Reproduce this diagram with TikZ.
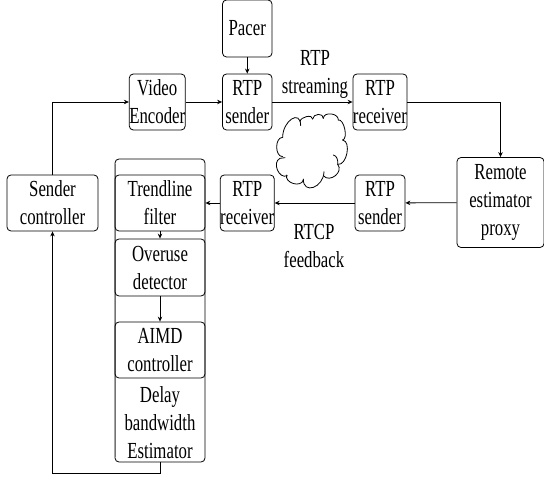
\documentclass[tikz,border=0pt]{standalone}
\usepackage{fontspec}
\setmainfont[FakeStretch=0.73]{Liberation Serif}
\usetikzlibrary{arrows.meta}
\tikzset{
  blockbox/.style={draw=black,line width=0.8pt,rounded corners=4pt,inner sep=0pt,align=center,font=\fontsize{23}{28}\selectfont},
  plainlabel/.style={inner sep=0pt,align=center,font=\fontsize{23}{28}\selectfont},
  link/.style={draw=black,line width=0.8pt,-{Stealth[length=5pt,width=4.5pt]}},
}
\begin{document}
\begin{tikzpicture}[x=1pt,y=-1pt]
\useasboundingbox (0,0) rectangle (544,478);
\node[blockbox,minimum width=90pt,minimum height=303pt] (outer) at (160,310.5) {};
\draw[black!55,line width=1pt] (115,164) -- (115,457);
\node[blockbox,minimum width=49.5pt,minimum height=57pt] (pacer) at (247.25,28.5) {Pacer};
\node[blockbox,minimum width=49.5pt,minimum height=56pt] (sender1) at (247.25,102) {RTP\\sender};
\node[blockbox,minimum width=55.5pt,minimum height=56pt] (video) at (157.25,102) {Video\\Encoder};
\node[blockbox,minimum width=50pt,minimum height=56pt] (receiver1) at (380,102) {RTP\\receiver};
\node[blockbox,minimum width=87pt,minimum height=90pt] (remote) at (500.5,202.5) {Remote\\estimator\\proxy};
\node[blockbox,minimum width=50pt,minimum height=56pt] (sender2) at (380,203) {RTP\\sender};
\node[blockbox,minimum width=49.5pt,minimum height=56pt] (receiver2) at (247.25,203) {RTP\\receiver};
\node[blockbox,minimum width=90pt,minimum height=56pt] (trend) at (160,203) {Trendline\\filter};
\node[blockbox,minimum width=90pt,minimum height=57pt] (overuse) at (160,267.5) {Overuse\\detector};
\node[blockbox,minimum width=90pt,minimum height=56pt] (aimd) at (160,350) {AIMD\\controller};
\node[plainlabel] (delay) at (160,423) {Delay\\bandwidth\\Estimator};
\node[blockbox,minimum width=91pt,minimum height=56pt] (ctrl) at (52.5,203) {Sender\\controller};
\node[plainlabel] (rtplabel) at (315,74) {RTP\\streaming};
\node[plainlabel] (rtcplabel) at (314,245.5) {RTCP\\feedback};
\begin{scope}[shift={(270,105)},x=0.3333pt,y=-0.3333pt,line width=0.8pt,line cap=round]
\draw (38,97) .. controls (38,47) and (92,12) .. (92,62);
\draw (90,50) .. controls (91,35) and (129,27) .. (128,42);
\draw (128,42) .. controls (129,25) and (161,23) .. (160,40);
\draw (160,40) .. controls (161,19) and (206,24) .. (205,45);
\draw (205,45) .. controls (222,41) and (235,101) .. (218,105);
\draw (218,105) .. controls (245,110) and (230,183) .. (203,178);
\draw (203,178) .. controls (205,165) and (200,152) .. (190,150);
\draw (203,178) .. controls (222,201) and (179,235) .. (160,212);
\draw (162,200) .. controls (161,248) and (99,270) .. (100,222);
\draw (100,225) .. controls (93,249) and (43,234) .. (50,210);
\draw (52,212) .. controls (27,224) and (5,172) .. (30,160);
\draw (30,160) -- (45,158);
\draw (38,155) .. controls (14,155) and (14,97) .. (38,97);
\end{scope}
\coordinate (turn) at (160,473);
\draw[link] (pacer) -- (sender1);
\draw[link] (video) -- (sender1);
\draw[link] (sender1) -- (receiver1);
\draw[link] (ctrl.north) |- (video.west);
\draw[link] (receiver1.east) -| (remote.north);
\draw[link] (remote) -- (sender2);
\draw[link] (sender2) -- (receiver2);
\draw[link] (receiver2) -- (trend);
\draw[link] (trend) -- (overuse);
\draw[link] (overuse) -- (aimd);
\draw[link] (outer.south) -- (turn) -| (ctrl.south);
\end{tikzpicture}
\end{document}
